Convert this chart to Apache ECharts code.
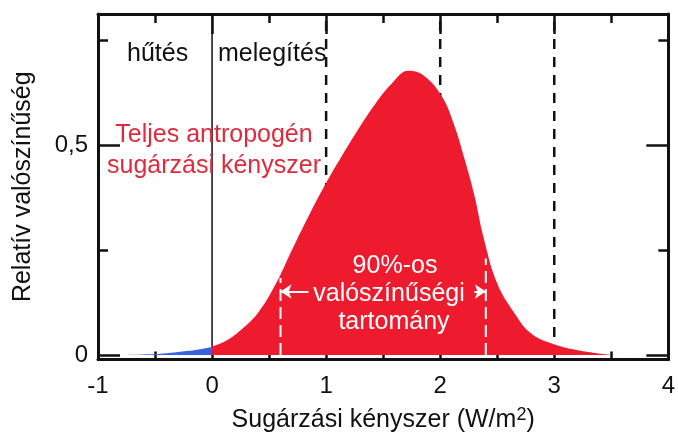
<!DOCTYPE html>
<html>
<head>
<meta charset="utf-8">
<script src="https://cdn.jsdelivr.net/npm/echarts@6/dist/echarts.min.js"></script>
<style>
html,body{margin:0;padding:0;background:#fff;}
#c{width:678px;height:438px;}
</style>
</head>
<body>
<div id="c"></div>
<script>
// ---- data ----
const coolX = [-0.75, -0.6, -0.5, -0.4, -0.26, -0.12, 0];
const coolY = [0, 0.001, 0.002, 0.004, 0.008, 0.013, 0.019];
const warmX = [0, 0.12, 0.26, 0.41, 0.56, 0.70, 0.85, 0.99, 1.14, 1.28, 1.43, 1.57, 1.72, 1.86, 2.01, 2.12, 2.21, 2.30, 2.38, 2.50, 2.65, 2.79, 2.99, 3.23, 3.50];
const warmY = [0.02, 0.033, 0.061, 0.103, 0.17, 0.25, 0.333, 0.405, 0.475, 0.537, 0.598, 0.645, 0.677, 0.665, 0.618, 0.55, 0.47, 0.38, 0.28, 0.17, 0.10, 0.053, 0.026, 0.01, 0];
const refLinesX = [0, 1, 2, 3];
const rangeBounds = [0.6, 2.4];
const rangeTops = [0.183, 0.23];
const xTickValues = [-1, 0, 1, 2, 3, 4];
const xTickLabels = ['-1', '0', '1', '2', '3', '4'];
const yTickValues = [0, 0.5];
const yTickLabels = ['0', '0,5'];
const yMinorValues = [0.25, 0.75];

const FONT = '"Liberation Sans", Arial, sans-serif';
const INK = '#111';
const RED = '#ee1b2e';
const BLUE = '#3a62e0';
const YMIN = -0.011, YMAX = 0.8125;

const zip = (xs, ys) => xs.map((x, i) => [x, ys[i]]);

const chart = echarts.init(document.getElementById('c'), null, {renderer: 'canvas'});

const refSeries = refLinesX.map((x) => ({
  type: 'line', xAxisIndex: 0, yAxisIndex: 0, z: 1, silent: true,
  showSymbol: false, symbol: 'none',
  data: [[x, 0], [x, YMAX]],
  lineStyle: x === 0 ? {color: INK, width: 1.5, type: 'solid'}
                     : {color: INK, width: 2.5, type: [10, 8]}
}));

const boundSeries = rangeBounds.map((x, i) => ({
  type: 'line', xAxisIndex: 0, yAxisIndex: 0, z: 5, silent: true,
  showSymbol: false, symbol: 'none',
  data: [[x, 0], [x, rangeTops[i]]],
  lineStyle: {color: '#fff', width: 2, type: [12, 6]}
}));

const lineAxis = {show: true, onZero: false, lineStyle: {color: INK, width: 3}};

chart.setOption({
  backgroundColor: '#fff',
  animation: false,
  grid: {left: 98, right: 6, top: 14, bottom: 74},
  xAxis: [
    {
      type: 'value', position: 'bottom', min: -1, max: 4, interval: 1,
      axisLine: lineAxis,
      axisTick: {show: true, inside: true, length: 8, lineStyle: {color: INK, width: 2.5}},
      minorTick: {show: true, splitNumber: 2, length: 8, lineStyle: {color: INK, width: 2.5}},
      splitLine: {show: false},
      axisLabel: {
        color: INK, fontSize: 24, fontFamily: FONT, margin: 15,
        formatter: (v) => xTickLabels[xTickValues.indexOf(v)]
      },
      name: 'Sugárzási kényszer (W/m{sup|2})',
      nameLocation: 'middle', nameGap: 47,
      nameTextStyle: {
        color: INK, fontSize: 25, fontFamily: FONT,
        rich: {sup: {fontSize: 18, fontFamily: FONT, color: INK, verticalAlign: 'top', padding: [0, 0, 10, 0]}}
      }
    },
    {
      type: 'value', position: 'top', min: -1, max: 4, interval: 1,
      axisLine: lineAxis,
      axisTick: {show: true, inside: true, length: 20, lineStyle: {color: INK, width: 2.5}},
      minorTick: {show: true, splitNumber: 2, length: 9, lineStyle: {color: INK, width: 2.5}},
      splitLine: {show: false},
      axisLabel: {show: false}
    }
  ],
  yAxis: [
    {
      type: 'value', position: 'left', min: YMIN, max: YMAX,
      axisLine: lineAxis,
      axisTick: {show: true, inside: true, length: 22, customValues: yTickValues, lineStyle: {color: INK, width: 2.5}},
      axisLabel: {
        customValues: yTickValues, color: INK, fontSize: 24, fontFamily: FONT, margin: 10,
        formatter: (v) => yTickLabels[yTickValues.indexOf(v)]
      },
      splitLine: {show: false},
      name: 'Relatív valószínűség', nameLocation: 'middle', nameGap: 62,
      nameTextStyle: {color: INK, fontSize: 25, fontFamily: FONT}
    },
    {
      type: 'value', position: 'left', min: YMIN, max: YMAX,
      axisLine: {show: false, onZero: false},
      axisTick: {show: true, inside: true, length: 10, customValues: yMinorValues, lineStyle: {color: INK, width: 2.5}},
      axisLabel: {show: false}, splitLine: {show: false}
    },
    {
      type: 'value', position: 'right', min: YMIN, max: YMAX,
      axisLine: lineAxis,
      axisTick: {show: true, inside: true, length: 22, customValues: yTickValues, lineStyle: {color: INK, width: 2.5}},
      axisLabel: {show: false}, splitLine: {show: false}
    },
    {
      type: 'value', position: 'right', min: YMIN, max: YMAX,
      axisLine: {show: false, onZero: false},
      axisTick: {show: true, inside: true, length: 10, customValues: yMinorValues, lineStyle: {color: INK, width: 2.5}},
      axisLabel: {show: false}, splitLine: {show: false}
    }
  ],
  series: [
    ...refSeries,
    {
      type: 'line', name: 'hűtés', z: 2, silent: true, smooth: 0.4,
      showSymbol: false, symbol: 'none',
      data: zip(coolX, coolY),
      lineStyle: {width: 0},
      areaStyle: {color: BLUE, opacity: 1}
    },
    {
      type: 'line', name: 'melegítés', z: 3, silent: true, smooth: 0.4,
      showSymbol: false, symbol: 'none',
      data: zip(warmX, warmY),
      lineStyle: {width: 0},
      areaStyle: {color: RED, opacity: 1}
    },
    ...boundSeries,
    {
      type: 'line', z: 6, silent: true, data: [],
      markLine: {
        silent: true, animation: false,
        symbol: ['none', 'arrow'], symbolSize: 11,
        label: {show: false},
        lineStyle: {color: '#fff', width: 2, type: 'solid'},
        data: [
          [{coord: [0.845, 0.151]}, {coord: [rangeBounds[0], 0.151]}],
          [{coord: [2.3, 0.151]}, {coord: [rangeBounds[1], 0.151]}]
        ]
      }
    }
  ],
  graphic: [
    {type: 'text', x: 127, y: 54, z: 100, style: {text: 'hűtés', fill: INK, font: '25px ' + FONT, align: 'left', verticalAlign: 'middle'}},
    {type: 'text', x: 218, y: 54, z: 100, style: {text: 'melegítés', fill: INK, font: '25px ' + FONT, align: 'left', verticalAlign: 'middle'}},
    {type: 'text', x: 214, y: 135, z: 100, style: {text: 'Teljes antropogén', fill: '#de2b3d', font: '25px ' + FONT, align: 'center', verticalAlign: 'middle'}},
    {type: 'text', x: 214, y: 166, z: 100, style: {text: 'sugárzási kényszer', fill: '#de2b3d', font: '25px ' + FONT, align: 'center', verticalAlign: 'middle'}},
    {type: 'text', x: 395, y: 266, z: 100, style: {text: '90%-os', fill: '#fff', font: '25px ' + FONT, align: 'center', verticalAlign: 'middle'}},
    {type: 'text', x: 389, y: 294, z: 100, style: {text: 'valószínűségi', fill: '#fff', font: '25px ' + FONT, align: 'center', verticalAlign: 'middle'}},
    {type: 'text', x: 394, y: 322, z: 100, style: {text: 'tartomány', fill: '#fff', font: '25px ' + FONT, align: 'center', verticalAlign: 'middle'}}
  ]
});
</script>
</body>
</html>
